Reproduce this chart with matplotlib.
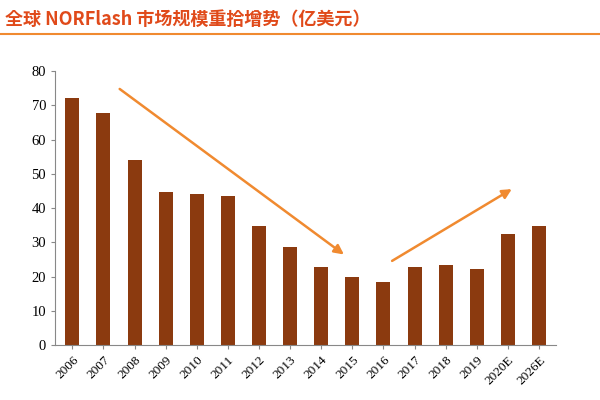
import matplotlib
matplotlib.use("Agg")
import matplotlib.pyplot as plt
from matplotlib.lines import Line2D

years = ["2006","2007","2008","2009","2010","2011","2012","2013","2014","2015",
         "2016","2017","2018","2019","2020E","2026E"]
values = [72.2, 67.7, 54.0, 44.7, 44.0, 43.5, 34.7, 28.6, 22.8, 19.9,
          18.4, 22.8, 23.4, 22.2, 32.4, 34.7]
yticks = [0, 10, 20, 30, 40, 50, 60, 70, 80]

fig = plt.figure(figsize=(6, 4), dpi=100)
ax = fig.add_axes([0.092, 0.137, 0.835, 0.685])
x = list(range(len(years)))
ax.bar(x, values, width=0.45, color="#8B3A0F")
ax.set_xlim(-0.55, len(years) - 0.45)
ax.set_ylim(0, 80)
ax.set_yticks(yticks)
ax.set_xticks(x)
ax.set_xticklabels(years, rotation=45, ha="right", rotation_mode="anchor",
                   fontfamily="Liberation Serif", fontsize=9.5)
for lab in ax.get_yticklabels():
    lab.set_fontfamily("Liberation Serif")
    lab.set_fontsize(10.5)
for s in ["top", "right"]:
    ax.spines[s].set_visible(False)
ax.spines["left"].set_color("#888888")
ax.spines["bottom"].set_color("#888888")
ax.tick_params(axis="both", length=3, color="#888888")

arrow_kw = dict(arrowstyle="-|>", color="#F08A30", lw=1.8, mutation_scale=14)
ax.annotate("", xy=(8.8, 26.0), xytext=(1.45, 75.3), arrowprops=arrow_kw)
ax.annotate("", xy=(14.2, 46.0), xytext=(10.2, 24.2), arrowprops=arrow_kw)

fig.text(0.008, 0.952, "全球 NORFlash 市场规模重拾增势（亿美元）", fontsize=13,
         fontweight="bold", color="#E04A1A",
         fontfamily=["Noto Sans CJK SC", "Noto Sans CJK JP", "DejaVu Sans"],
         va="center")
fig.add_artist(Line2D([0.0, 1.0], [0.915, 0.915], color="#F08A30", lw=1.5))
fig.savefig("out.png")
